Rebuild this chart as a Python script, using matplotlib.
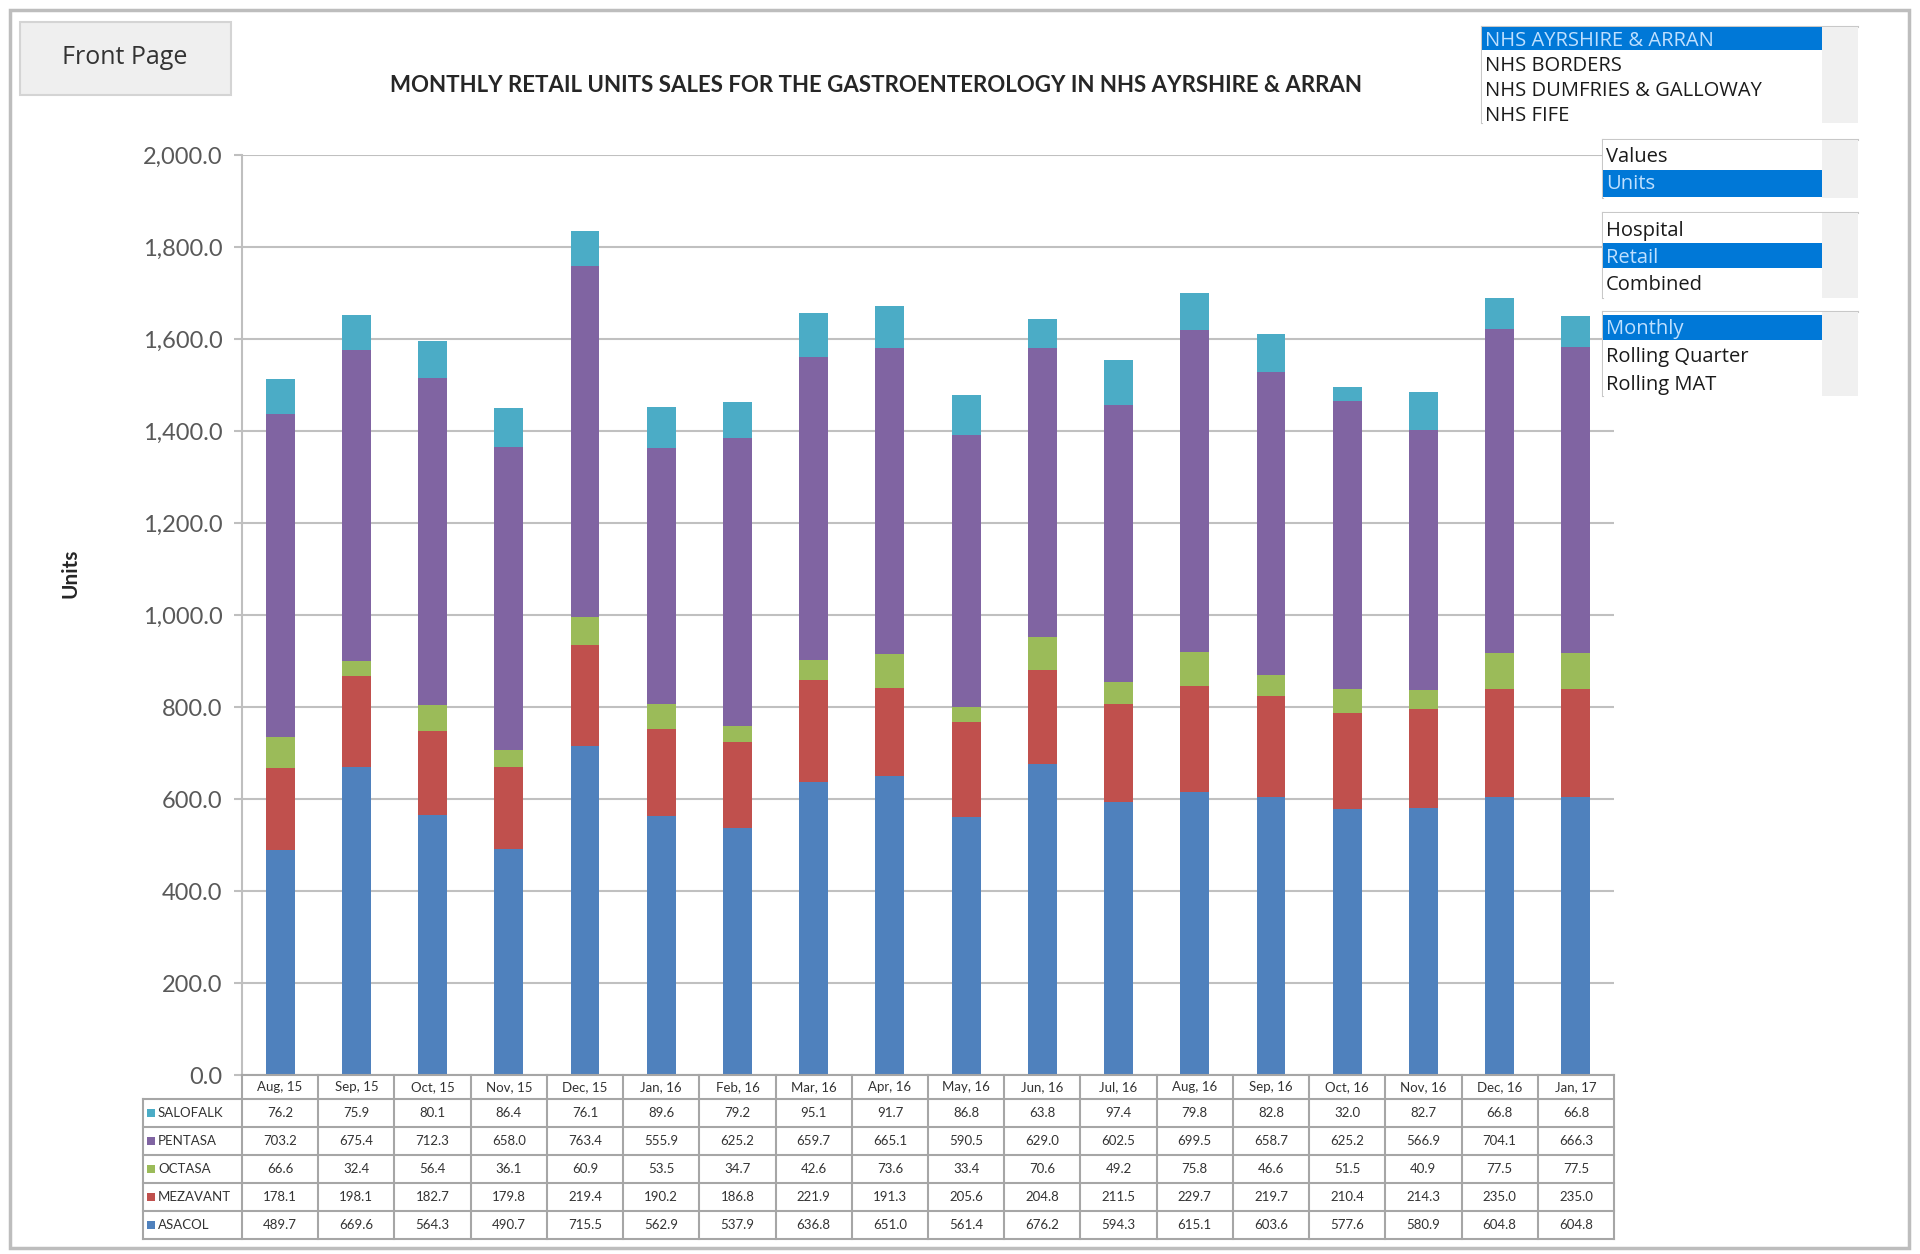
import matplotlib
matplotlib.use("Agg")
import matplotlib.pyplot as plt
import numpy as np
from matplotlib.patches import Rectangle
from matplotlib.lines import Line2D

months = ["Aug, 15", "Sep, 15", "Oct, 15", "Nov, 15", "Dec, 15", "Jan, 16",
          "Feb, 16", "Mar, 16", "Apr, 16", "May, 16", "Jun, 16", "Jul, 16",
          "Aug, 16", "Sep, 16", "Oct, 16", "Nov, 16", "Dec, 16", "Jan, 17"]
asacol = [489.7, 669.6, 564.3, 490.7, 715.5, 562.9, 537.9, 636.8, 651.0,
          561.4, 676.2, 594.3, 615.1, 603.6, 577.6, 580.9, 604.8, 604.8]
mezavant = [178.1, 198.1, 182.7, 179.8, 219.4, 190.2, 186.8, 221.9, 191.3,
            205.6, 204.8, 211.5, 229.7, 219.7, 210.4, 214.3, 235.0, 235.0]
octasa = [66.6, 32.4, 56.4, 36.1, 60.9, 53.5, 34.7, 42.6, 73.6,
          33.4, 70.6, 49.2, 75.8, 46.6, 51.5, 40.9, 77.5, 77.5]
pentasa = [703.2, 675.4, 712.3, 658.0, 763.4, 555.9, 625.2, 659.7, 665.1,
           590.5, 629.0, 602.5, 699.5, 658.7, 625.2, 566.9, 704.1, 666.3]
salofalk = [76.2, 75.9, 80.1, 86.4, 76.1, 89.6, 79.2, 95.1, 91.7,
            86.8, 63.8, 97.4, 79.8, 82.8, 32.0, 82.7, 66.8, 66.8]

series_names = ["ASACOL", "MEZAVANT", "OCTASA", "PENTASA", "SALOFALK"]
series_vals = [asacol, mezavant, octasa, pentasa, salofalk]
colors = ["#4F81BD", "#C0504D", "#9BBB59", "#8064A2", "#4BACC6"]

regions = ["NHS AYRSHIRE & ARRAN", "NHS BORDERS", "NHS DUMFRIES & GALLOWAY", "NHS FIFE"]
measures = ["Values", "Units"]
sectors = ["Hospital", "Retail", "Combined"]
periods = ["Monthly", "Rolling Quarter", "Rolling MAT"]

W, H = 1920, 1254
fig = plt.figure(figsize=(W / 100, H / 100), dpi=100)


def fx(x):
    return x / W


def fy(y):
    return 1 - y / H


def rect(x0, y0, x1, y1, **kw):
    fig.add_artist(Rectangle((fx(x0), fy(y1)), fx(x1) - fx(x0), fy(y0) - fy(y1),
                             transform=fig.transFigure, **kw))


def line(x0, y0, x1, y1, color="#A6A6A6", lw=1.5):
    fig.add_artist(Line2D([fx(x0), fx(x1)], [fy(y0), fy(y1)], color=color, lw=lw,
                          transform=fig.transFigure))


def text(x, y, s, **kw):
    fig.text(fx(x), fy(y), s, **kw)


TEXT = "#333333"
SANS = "Lato"
UI = "Open Sans"

# ---- chart ----
ax = fig.add_axes([fx(242), fy(1075), fx(1614) - fx(242), fy(155) - fy(1075)])
x = np.arange(len(months))
bottom = np.zeros(len(months))
for name, vals, c in zip(series_names, series_vals, colors):
    ax.bar(x, vals, 0.38, bottom=bottom, color=c, label=name, zorder=3)
    bottom += np.array(vals)

ax.set_xlim(-0.5, len(months) - 0.5)
ax.set_ylim(0, 2000)
yt = np.arange(0, 2001, 200)
ax.set_yticks(yt)
ax.set_yticklabels([f"{v:,.1f}" for v in yt], fontsize=17, color="#595959", family=SANS)
ax.set_xticks([])
ax.yaxis.grid(True, color="#C0C0C0", lw=1.5)
ax.set_axisbelow(True)
for s in ["top", "right", "bottom"]:
    ax.spines[s].set_visible(False)
ax.spines["left"].set_color("#BFBFBF")
ax.spines["left"].set_linewidth(1.5)
ax.tick_params(axis="y", length=6, width=1.5, color="#BFBFBF", pad=8)

text(876, 86, "MONTHLY RETAIL UNITS SALES FOR THE GASTROENTEROLOGY IN NHS AYRSHIRE & ARRAN",
     ha="center", va="center", fontsize=16, fontweight="bold", color="#262626", family=SANS)
text(70, 573, "Units", ha="center", va="center", rotation=90, fontsize=15,
     fontweight="bold", color="#262626", family=SANS)

# ---- data table under the chart ----
edges = ax.transData.transform(np.c_[np.arange(len(months) + 1) - 0.5,
                                     np.zeros(len(months) + 1)])[:, 0]
centers = (edges[:-1] + edges[1:]) / 2
row_y = [1075, 1099, 1127, 1155, 1183, 1211, 1239]
lab_x0 = 143

line(edges[0], row_y[0], edges[-1], row_y[0])
for yy in row_y[1:]:
    line(lab_x0, yy, edges[-1], yy)
for ex in edges:
    line(ex, row_y[0], ex, row_y[-1])
line(lab_x0, row_y[1], lab_x0, row_y[-1])

for cx, m in zip(centers, months):
    text(cx, (row_y[0] + row_y[1]) / 2, m, ha="center", va="center", fontsize=9.5,
         color=TEXT, family=SANS)

table_rows = list(zip(series_names, series_vals, colors))[::-1]
for i, (name, vals, c) in enumerate(table_rows):
    yc = (row_y[i + 1] + row_y[i + 2]) / 2
    rect(147, yc - 4, 155, yc + 4, facecolor=c, edgecolor="none")
    text(158, yc, name, ha="left", va="center", fontsize=9.5, color=TEXT, family=SANS)
    for cx, v in zip(centers, vals):
        text(cx, yc, f"{v:.1f}", ha="center", va="center", fontsize=9.5, color=TEXT,
             family=SANS)

# ---- frame and controls ----
rect(10, 10, 1909, 1248, facecolor="none", edgecolor="#BDBDBD", lw=2.5)
rect(20, 22, 231, 95, facecolor="#EFEFEF", edgecolor="#D4D4D4", lw=1.5)
text(125, 58, "Front Page", ha="center", va="center", fontsize=18, color=TEXT, family=UI)

HL = "#0078D7"
GREY = "#F0F0F0"


def listbox(x0, y0, y1, items, sel, row_h, first_y, hl_top, hl_bot):
    rect(x0, y0, 1822, y1, facecolor="white", edgecolor="none", zorder=5)
    rect(1822, y0, 1858, y1, facecolor=GREY, edgecolor="none", zorder=5)
    line(x0, y0, 1858, y0, color="#C8C8C8", lw=1.5)
    line(x0, y0, x0, y1, color="#C8C8C8", lw=1.5)
    rect(x0, hl_top, 1822, hl_bot, facecolor=HL, edgecolor="none", zorder=6)
    for k, it in enumerate(items):
        yc = first_y + k * row_h
        if yc > y1 + 4:
            break
        fig.text(fx(x0 + 3), fy(yc), it, ha="left", va="center", fontsize=14.5,
                 color="#BFE0FF" if k == sel else "#1A1A1A", family=UI, zorder=7)


listbox(1482, 27, 123, regions, 0, 25, 41, 27, 50)
line(1827, 67, 1855, 67, color="#8C8C8C", lw=2)
listbox(1603, 140, 198, measures, 1, 27, 157, 170, 197)
listbox(1603, 213, 298, sectors, 1, 27, 231, 243, 268)
listbox(1603, 312, 396, periods, 0, 28, 329, 315, 340)

fig.savefig("out.png", dpi=100)
